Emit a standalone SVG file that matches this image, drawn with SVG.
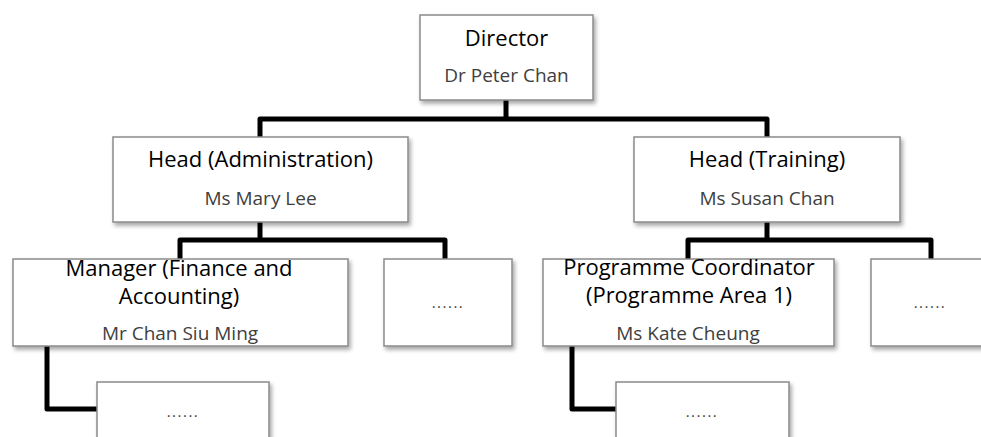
<svg xmlns="http://www.w3.org/2000/svg" width="981" height="437" viewBox="0 0 981 437">
  <defs>
    <filter id="sh" x="-10%" y="-10%" width="130%" height="140%">
      <feDropShadow dx="2" dy="3" stdDeviation="2" flood-color="#000" flood-opacity="0.35"/>
    </filter>
  </defs>
  <style>
    .box { fill: #ffffff; stroke: #8a8a8a; stroke-width: 1.5; filter: url(#sh); }
    .con { fill: none; stroke: #000000; stroke-width: 5; stroke-linejoin: round; stroke-linecap: butt; }
    .title { font-family: "Open Sans", "Liberation Sans", sans-serif; font-size: 22px; fill: #000000; text-anchor: middle; }
    .name { font-family: "Open Sans", "Liberation Sans", sans-serif; font-size: 19px; fill: #404040; text-anchor: middle; }
    .dots { font-family: "Open Sans", "Liberation Sans", sans-serif; font-size: 15px; fill: #404040; text-anchor: middle; letter-spacing: 1.5px; }
  </style>
  <rect width="981" height="437" fill="#ffffff"/>
  <g id="connectors">
    <path class="con" d="M506,100 V119"/>
    <path class="con" d="M260,137 V119 H767 V137"/>
    <path class="con" d="M260,222 V240"/>
    <path class="con" d="M180,259 V240 H445 V259"/>
    <path class="con" d="M767,222 V240"/>
    <path class="con" d="M688,259 V240 H931 V259"/>
    <path class="con" d="M47,346 V409 H97"/>
    <path class="con" d="M572,346 V409 H616"/>
  </g>
  <g id="director">
    <rect class="box" x="420" y="15" width="173" height="85"/>
    <text class="title" x="506.5" y="46">Director</text>
    <text class="name" x="506.5" y="82">Dr Peter Chan</text>
  </g>
  <g id="head-admin">
    <rect class="box" x="113" y="137" width="295" height="85"/>
    <text class="title" x="260.5" y="167">Head (Administration)</text>
    <text class="name" x="260.5" y="205">Ms Mary Lee</text>
  </g>
  <g id="head-training">
    <rect class="box" x="634" y="137" width="266" height="85"/>
    <text class="title" x="767" y="167">Head (Training)</text>
    <text class="name" x="767" y="205">Ms Susan Chan</text>
  </g>
  <g id="manager-finance">
    <rect class="box" x="13" y="259" width="335" height="87"/>
    <text class="title" x="179" y="276">Manager (Finance and</text>
    <text class="title" x="179" y="304">Accounting)</text>
    <text class="name" x="180" y="340">Mr Chan Siu Ming</text>
  </g>
  <g id="admin-other">
    <rect class="box" x="384" y="259" width="128" height="87"/>
    <text class="dots" x="448" y="308">......</text>
  </g>
  <g id="programme-coordinator">
    <rect class="box" x="543" y="259" width="291" height="87"/>
    <text class="title" x="689" y="275">Programme Coordinator</text>
    <text class="title" x="689" y="303">(Programme Area 1)</text>
    <text class="name" x="688" y="340">Ms Kate Cheung</text>
  </g>
  <g id="training-other">
    <rect class="box" x="871" y="259" width="128" height="87"/>
    <text class="dots" x="930" y="308">......</text>
  </g>
  <g id="finance-sub">
    <rect class="box" x="97" y="382" width="172" height="90"/>
    <text class="dots" x="183" y="417">......</text>
  </g>
  <g id="programme-sub">
    <rect class="box" x="616" y="382" width="173" height="90"/>
    <text class="dots" x="702" y="417">......</text>
  </g>
</svg>
